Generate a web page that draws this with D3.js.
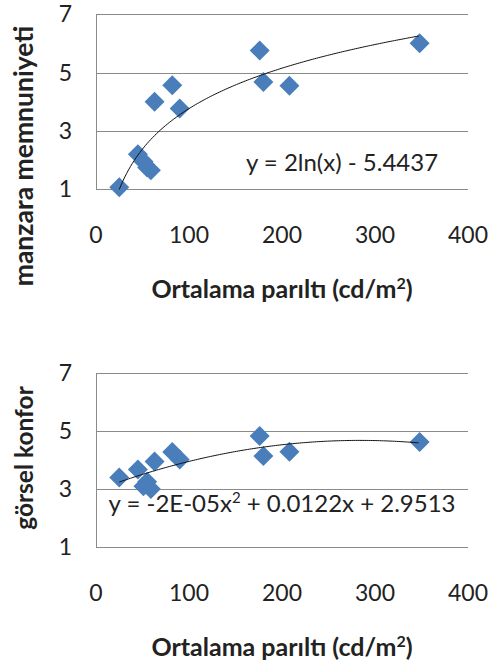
<!DOCTYPE html>
<html>
<head>
<meta charset="utf-8">
<script src="https://cdn.jsdelivr.net/npm/d3@7"></script>
<style>
  body { margin: 0; background: #fff; }
  text { font-family: Lato, "Open Sans", sans-serif; fill: #222; }
</style>
</head>
<body>
<div id="chart"></div>
<script>
// Luminance values (shared by both panels)
var luminance = [25, 45, 51, 55, 59, 63, 82, 90, 176, 180, 208, 348];
// view satisfaction
var manzara = [1.07, 2.2, 1.95, 1.75, 1.65, 4.0, 4.57, 3.77, 5.76, 4.68, 4.55, 6.01];
// visual comfort
var gorsel = [3.4, 3.68, 3.1, 3.25, 3.0, 3.95, 4.28, 4.02, 4.83, 4.14, 4.29, 4.63];

var xTicks = [0, 100, 200, 300, 400];
var yTicks = [1, 3, 5, 7];

var svg = d3.select("#chart").append("svg")
    .attr("width", 496)
    .attr("height", 668);

function panel(cfg) {
    var x = d3.scaleLinear().domain([0, 400]).range([96, 468]);
    var y = d3.scaleLinear().domain([1, 7]).range([cfg.bottom, cfg.top]);
    var g = svg.append("g");

    // gridlines
    g.selectAll("line.grid")
        .data(yTicks)
        .enter().append("line")
        .attr("x1", 96).attr("x2", 468)
        .attr("y1", function (d) { return Math.round(y(d)) + 0.5; })
        .attr("y2", function (d) { return Math.round(y(d)) + 0.5; })
        .attr("stroke", "#8a8a8a").attr("stroke-width", 1);

    g.append("line")
        .attr("x1", 96.5).attr("x2", 96.5)
        .attr("y1", Math.round(y(7)) + 0.5).attr("y2", Math.round(y(1)) + 0.5)
        .attr("stroke", "#8a8a8a");

    // tick labels
    g.selectAll("text.yt")
        .data(yTicks)
        .enter().append("text")
        .attr("x", 72)
        .attr("y", function (d) { return y(d); })
        .attr("dy", "0.35em")
        .attr("text-anchor", "end")
        .style("font-size", "23px")
        .text(function (d) { return d; });

    g.selectAll("text.xt")
        .data(xTicks)
        .enter().append("text")
        .attr("x", function (d) { return x(d); })
        .attr("y", cfg.bottom + 46)
        .attr("dy", "0.35em")
        .attr("text-anchor", "middle")
        .style("font-size", "23px")
        .text(function (d) { return d; });

    var tx = d3.range(luminance[0], 348.5, 2);
    var line = d3.line()
        .x(function (d) { return x(d); })
        .y(function (d) { return y(cfg.trend(d)); });

    // points
    var sym = d3.symbol().type(d3.symbolSquare).size(200);
    g.selectAll("path.pt")
        .data(luminance)
        .enter().append("path")
        .attr("d", sym)
        .attr("transform", function (d, i) {
            return "translate(" + x(d) + "," + y(cfg.values[i]) + ") rotate(45)";
        })
        .attr("fill", "#4a7ebb");

    // trendline on top of markers
    g.append("path")
        .attr("d", line(tx))
        .attr("fill", "none")
        .attr("stroke", "#111")
        .attr("stroke-width", 1);

    // equation
    var eq = g.append("text")
        .attr("x", cfg.eqX)
        .attr("y", cfg.eqY)
        .attr("text-anchor", "middle")
        .style("font-size", "24px");
    cfg.eq(eq);

    // axis titles
    var xt = g.append("text")
        .attr("x", 282)
        .attr("y", cfg.xTitleY)
        .attr("text-anchor", "middle")
        .style("font-size", "25px")
        .style("font-weight", "bold")
        .text("Ortalama parıltı (cd/m");
    xt.append("tspan").attr("dy", -9).style("font-size", "16px").text("2");
    xt.append("tspan").attr("dy", 9).text(")");

    g.append("text")
        .attr("transform", "translate(" + cfg.yTitleX + "," + cfg.yTitleY + ") rotate(-90)")
        .attr("text-anchor", "middle")
        .attr("dy", "0.35em")
        .style("font-size", cfg.yTitleSize)
        .style("font-weight", "bold")
        .text(cfg.yTitle);
}

panel({
    top: 14.3, bottom: 189.3,
    values: manzara,
    trend: function (v) { return 2 * Math.log(v) - 5.4437; },
    eqX: 342, eqY: 171,
    eq: function (t) { t.text("y = 2ln(x) - 5.4437"); },
    xTitleY: 298,
    yTitle: "manzara memnuniyeti", yTitleX: 24, yTitleY: 156, yTitleSize: "26.5px"
});

panel({
    top: 373.3, bottom: 547,
    values: gorsel,
    trend: function (v) { return -2.15e-5 * v * v + 0.0122 * v + 2.9513; },
    eqX: 282, eqY: 512,
    eq: function (t) {
        t.text("y = -2E-05x");
        t.append("tspan").attr("dy", -9).style("font-size", "15px").text("2");
        t.append("tspan").attr("dy", 9).text(" + 0.0122x + 2.9513");
    },
    xTitleY: 656,
    yTitle: "görsel konfor", yTitleX: 24, yTitleY: 458, yTitleSize: "24.5px"
});
</script>
</body>
</html>
